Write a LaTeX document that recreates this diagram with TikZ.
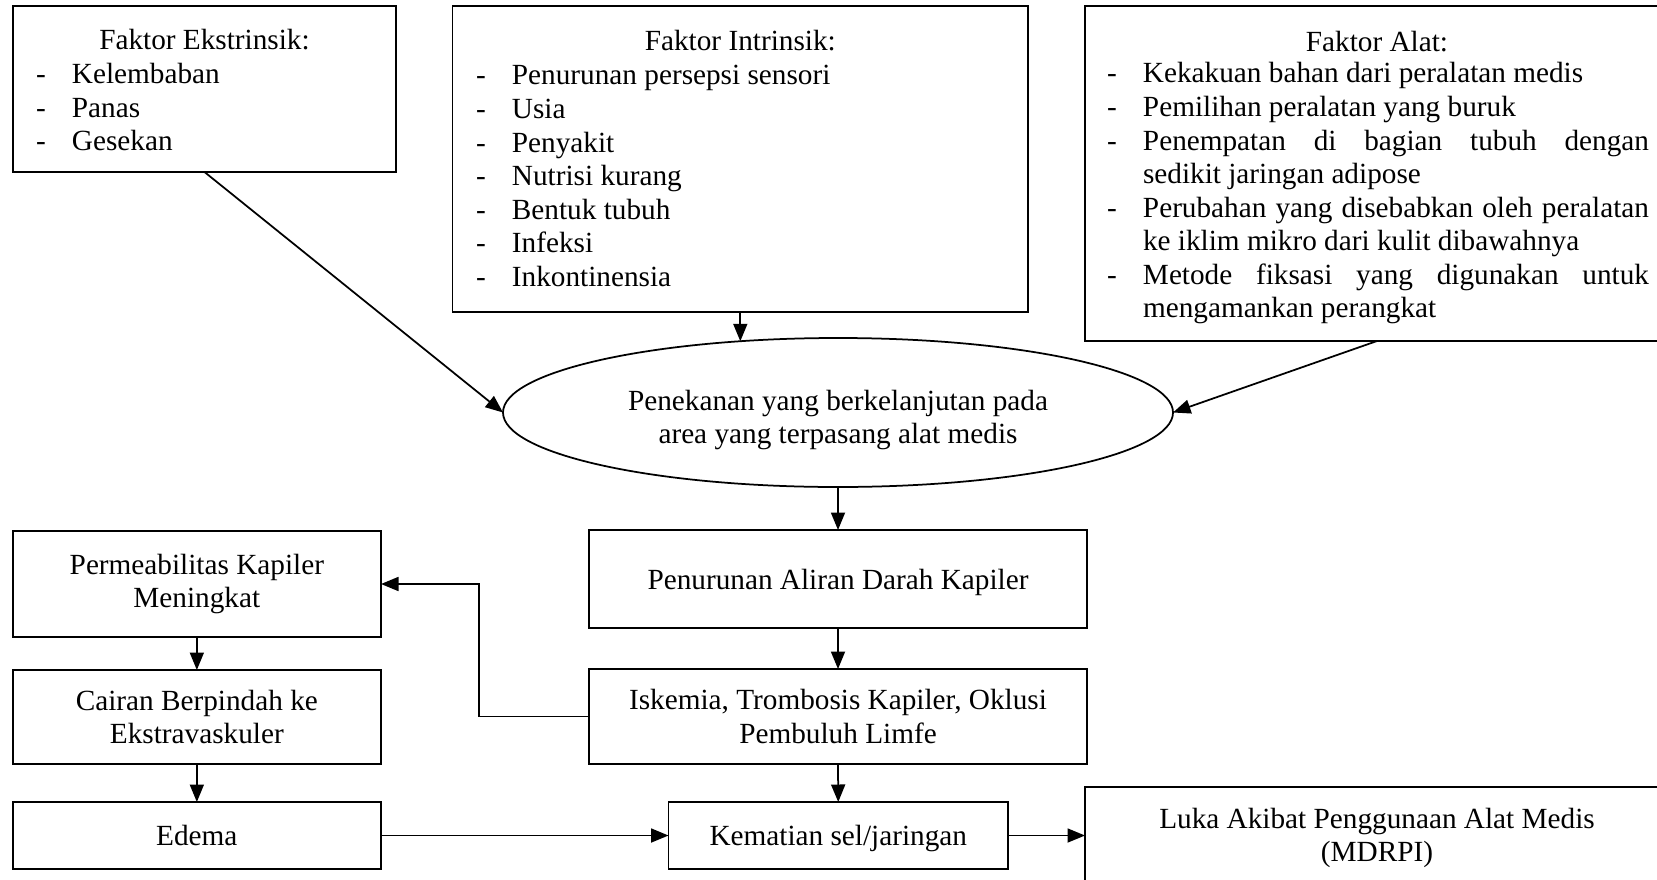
\documentclass[tikz,border=0pt]{standalone}
\usepackage{fontspec}
\setmainfont{Liberation Serif}
\usetikzlibrary{shapes.geometric,arrows.meta,calc}
\newcommand\fsz{\fontsize{11.7pt}{13.4pt}\selectfont}
\newcommand\ditem[1]{\makebox[14.4pt][l]{-}#1\par}
\newcommand\dcont[1]{\hspace*{14.4pt}#1\par}
\newcommand\djust[1]{\makebox[14.4pt][l]{-}\makebox[202.4pt][s]{#1}\par}
\newcommand\boxnode[7][]{\node[box, #1, minimum width={(#5-#3)*0.4pt}, minimum height={(#6-#4)*0.4pt}] (#2) at ({(#3+#5)/2},{(#4+#6)/2}) {#7};}
\begin{document}
\begin{tikzpicture}[x=0.4pt,y=-0.4pt,
  box/.style={draw, line width=0.7pt, rectangle, inner sep=0pt, outer sep=0pt, align=center, font=\fsz},
  oneline/.style={text height=8.8pt, text depth=0.6pt},
  ell/.style={draw, line width=0.7pt, ellipse, inner sep=0pt, outer sep=0pt,
    minimum width=268pt, minimum height=59.6pt},
  txt/.style={inner sep=0pt, outer sep=0pt, font=\fsz},
  arr/.style={draw, line width=0.7pt, -{Triangle[length=7pt,width=5.6pt]}}]
\useasboundingbox (0,0) rectangle (1657,879);
% top boxes
\boxnode{ekst}{13}{6}{396}{172}{}
\boxnode{intr}{452.6}{6}{1028}{312}{}
\boxnode{alat}{1085}{6}{1669}{341}{}
\node[txt, anchor=base] (ekstT) at (204.5,50) {Faktor Ekstrinsik:};
\node[txt, anchor=base west] (ekstL) at (36,84) {\parbox[t]{200pt}{\ditem{Kelembaban}\ditem{Panas}\ditem{Gesekan}}};
\node[txt, anchor=base] (intrT) at (740.3,51) {Faktor Intrinsik:};
\node[txt, anchor=base west] (intrL) at (476,85) {\parbox[t]{200pt}{\ditem{Penurunan persepsi sensori}\ditem{Usia}\ditem{Penyakit}\ditem{Nutrisi kurang}\ditem{Bentuk tubuh}\ditem{Infeksi}\ditem{Inkontinensia}}};
\node[txt, anchor=base] (alatT) at (1377,52) {Faktor Alat:};
\node[txt, anchor=base west] (alatL) at (1107,83) {\parbox[t]{240pt}{\ditem{Kekakuan bahan dari peralatan medis}\ditem{Pemilihan peralatan yang buruk}\djust{Penempatan di bagian tubuh dengan}\dcont{sedikit jaringan adipose}\djust{Perubahan yang disebabkan oleh peralatan}\dcont{ke iklim mikro dari kulit dibawahnya}\djust{Metode fiksasi yang digunakan untuk}\dcont{mengamankan perangkat}}};
% ellipse
\node[ell] (ell) at (838,412.5) {};
\node[txt, align=center] (ellT) at (838,420) {Penekanan yang berkelanjutan pada\\area yang terpasang alat medis};
% lower boxes
\boxnode[oneline]{pen}{589}{530}{1087}{628}{Penurunan Aliran Darah Kapiler}
\boxnode{isk}{589}{669}{1087}{764}{Iskemia, Trombosis Kapiler, Oklusi\\Pembuluh Limfe}
\boxnode{perm}{12.7}{531}{381}{637}{Permeabilitas Kapiler\\Meningkat}
\boxnode{cair}{12.7}{670}{381}{764}{Cairan Berpindah ke\\Ekstravaskuler}
\boxnode[oneline]{edema}{12.7}{802}{381}{869}{Edema}
\boxnode[oneline]{kem}{668.5}{802}{1008}{869}{Kematian sel/jaringan}
\boxnode{luka}{1085}{787}{1669}{889}{Luka Akibat Penggunaan Alat Medis\\(MDRPI)}
\coordinate (elbx) at (479,0);
% connectors
\draw[arr] (ekst.south) -- (ell.west);
\draw[arr] (intr.south) -- (intr.south |- ell.144);
\draw[arr] (alat.south) -- (ell.east);
\draw[arr] (ell.south) -- (pen.north);
\draw[arr] (pen.south) -- (isk.north);
\draw[arr] (isk.south) -- (kem.north);
\draw[arr] (isk.west) -| (elbx |- perm.east) -- (perm.east);
\draw[arr] (perm.south) -- (cair.north);
\draw[arr] (cair.south) -- (edema.north);
\draw[arr] (edema.east) -- (kem.west);
\draw[arr] (kem.east) -- (kem.east -| luka.west);
\end{tikzpicture}
\end{document}
